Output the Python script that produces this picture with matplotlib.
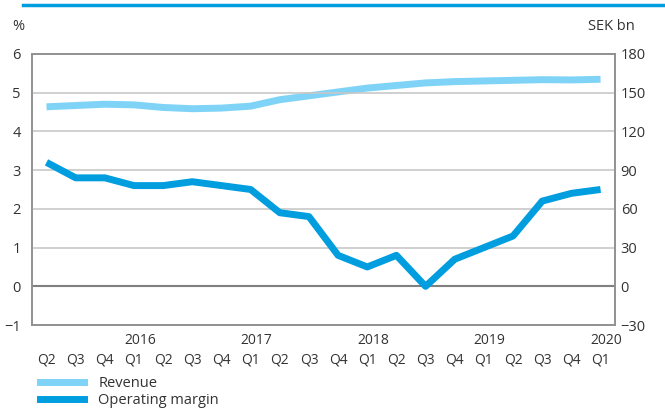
import numpy as np
import matplotlib
matplotlib.use("Agg")
import matplotlib.pyplot as plt
from matplotlib.lines import Line2D

quarters = ["Q2", "Q3", "Q4", "Q1", "Q2", "Q3", "Q4", "Q1", "Q2", "Q3",
            "Q4", "Q1", "Q2", "Q3", "Q4", "Q1", "Q2", "Q3", "Q4", "Q1"]
years = ["2016", "2017", "2018", "2019", "2020"]
year_pos = [3, 7, 11, 15, 19]

revenue = [139, 140, 141, 140.5, 138.5, 137.5, 138, 139.5, 144.5, 147.5,
           150.5, 153.5, 155.5, 157.5, 158.5, 159, 159.5, 160, 159.8, 160.3]
op_margin = [3.2, 2.8, 2.8, 2.6, 2.6, 2.7, 2.6, 2.5, 1.9, 1.8,
             0.8, 0.5, 0.8, 0.0, 0.7, 1.0, 1.3, 2.2, 2.4, 2.5]

plt.rcParams['font.family'] = ['Open Sans', 'DejaVu Sans']
txt = '#333333'
c_rev = '#7fd3f7'
c_op = '#009ddf'

fig = plt.figure(figsize=(6.65, 4.11), dpi=100)
ax = fig.add_axes([0.048, 0.209, 0.877, 0.66])
ax2 = ax.twinx()

x = np.arange(len(quarters))
ax.set_xlim(-0.5, len(quarters) - 0.5)
ax.set_ylim(-1, 6)
ax2.set_ylim(-30, 180)

for y in [1, 2, 3, 4, 5]:
    ax.axhline(y, color='#c8c8c8', lw=1.2, zorder=0)
ax.axhline(0, color='#808080', lw=1.5, zorder=1)

ax2.plot(x, revenue, color=c_rev, lw=5, solid_capstyle='butt', zorder=3)
ax.plot(x, op_margin, color=c_op, lw=5, solid_capstyle='butt', zorder=4)
ax.set_zorder(ax2.get_zorder() + 1)
ax.patch.set_visible(False)

for a in (ax, ax2):
    for s in a.spines.values():
        s.set_color('#909090')
        s.set_linewidth(1.2)

ax.set_yticks(range(-1, 7))
ax.tick_params(axis='y', length=0, labelsize=10.5, colors=txt, pad=8)
ax2.set_yticks(range(-30, 181, 30))
ax2.tick_params(axis='y', length=0, labelsize=10.5, colors=txt, pad=4)

ax.set_xticks(x)
ax.set_xticklabels(quarters)
ax.tick_params(axis='x', length=0, labelsize=10, colors=txt, pad=20)
for p, yr in zip(year_pos, years):
    ax.text(p + 0.2, -1.2, yr, ha='center', va='top', fontsize=10, color=txt)

fig.text(0.018, 0.935, '%', fontsize=10.5, color=txt, va='center')
fig.text(0.955, 0.935, 'SEK bn', fontsize=10.5, color=txt, va='center', ha='right')

fig.add_artist(Line2D([0.035, 1.0], [0.988, 0.988], color='#009ddf', lw=2.5))

handles = [Line2D([], [], color=c_rev, lw=5), Line2D([], [], color=c_op, lw=5)]
fig.legend(handles, ['Revenue', 'Operating margin'], loc='upper left',
           bbox_to_anchor=(0.045, 0.11), frameon=False, fontsize=10.5,
           handlelength=3.0, handletextpad=1.0, labelspacing=0.15,
           labelcolor=txt, borderpad=0.2)

fig.savefig('out.png', dpi=100)
